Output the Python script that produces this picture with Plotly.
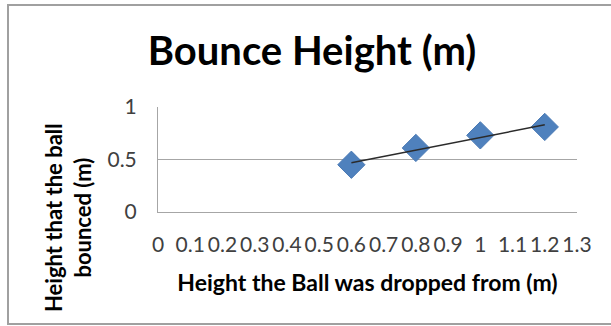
import numpy as np
import plotly.graph_objects as go

# Drop height vs. bounce height measurements (m)
drop_height = [0.6, 0.8, 1.0, 1.2]
bounce_height = [0.45, 0.61, 0.73, 0.81]

x_ticks = [0, 0.1, 0.2, 0.3, 0.4, 0.5, 0.6, 0.7, 0.8, 0.9, 1, 1.1, 1.2, 1.3]
x_tick_text = ["0", "0.1", "0.2", "0.3", "0.4", "0.5", "0.6", "0.7", "0.8", "0.9", "1", "1.1", "1.2", "1.3"]
y_ticks = [0, 0.5, 1]
y_tick_text = ["0", "0.5", "1"]

# Linear trendline through the measured points
slope, intercept = np.polyfit(drop_height, bounce_height, 1)
trend_x = [min(drop_height), max(drop_height)]
trend_y = [slope * v + intercept for v in trend_x]

FONT = "Lato"
TICK_COLOR = "#404040"
GRID = "#a6a6a6"

fig = go.Figure()
fig.add_trace(go.Scatter(
    x=drop_height, y=bounce_height, mode="markers",
    marker=dict(symbol="diamond", size=21, color="#4f81bd",
                line=dict(color="#4a7ab5", width=1)),
    showlegend=False, hoverinfo="x+y",
))
fig.add_trace(go.Scatter(
    x=trend_x, y=trend_y, mode="lines",
    line=dict(color="#2b2b2b", width=1.5),
    showlegend=False, hoverinfo="skip",
))

fig.update_layout(
    width=611, height=326,
    margin=dict(l=158, r=34, t=107, b=114),
    paper_bgcolor="white", plot_bgcolor="white",
    font=dict(family=FONT, color=TICK_COLOR),
    title=dict(text="<b>Bounce Height (m)</b>", x=(312 / 611), xanchor="center",
               y=1 - 51 / 326, yanchor="middle",
               font=dict(family=FONT, size=40, color="black")),
    xaxis=dict(
        range=[0, 1.3], tickmode="array", tickvals=x_ticks, ticktext=x_tick_text,
        tickangle=0, tickfont=dict(size=21, color=TICK_COLOR),
        showgrid=False, zeroline=False, showline=True, linecolor=GRID, linewidth=1,
        ticks="", ticklabelstandoff=14,
        title=dict(text="<b>Height the Ball was dropped from (m)</b>",
                   font=dict(family=FONT, size=23, color="black"), standoff=19),
    ),
    yaxis=dict(
        range=[0, 1], tickmode="array", tickvals=y_ticks, ticktext=y_tick_text,
        tickfont=dict(size=21, color=TICK_COLOR),
        showgrid=True, gridcolor=GRID, gridwidth=1,
        zeroline=False, showline=True, linecolor=GRID, linewidth=1,
        ticks="", ticklabelstandoff=16,
    ),
    annotations=[dict(
        text="<b>Height that the ball<br>bounced (m)</b>",
        xref="paper", yref="paper",
        x=(68 - 158) / 419, y=(212 - 218) / 105,
        xanchor="center", yanchor="middle", textangle=-90, showarrow=False,
        font=dict(family=FONT, size=22, color="black"),
    )],
    shapes=[dict(
        type="rect", xref="paper", yref="paper",
        x0=(8 - 158) / 419, x1=(660 - 158) / 419,
        y0=-(324 - 212) / 105, y1=1 + (107 - 5) / 105,
        line=dict(color="#a0a0a0", width=2), layer="below",
    )],
)

fig.write_html("out.html")
